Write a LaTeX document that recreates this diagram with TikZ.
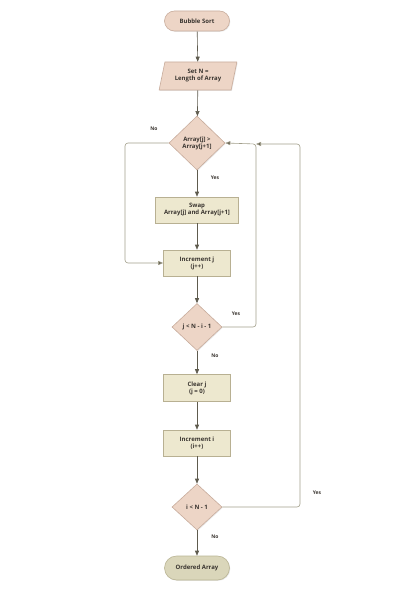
\documentclass[tikz,border=0pt]{standalone}
\usepackage{fontspec}
\setmainfont{Open Sans}
\usetikzlibrary{shapes.geometric,shapes.misc,arrows.meta,shadows}
\definecolor{termfill}{HTML}{EDD5C6}
\definecolor{termline}{HTML}{C8AC9C}
\definecolor{procfill}{HTML}{EDE8CF}
\definecolor{procline}{HTML}{B8B092}
\definecolor{endfill}{HTML}{DAD6BA}
\definecolor{endline}{HTML}{B9B494}
\definecolor{flow}{HTML}{5E5B4E}
\definecolor{loopline}{HTML}{A19E8A}
\definecolor{txt}{HTML}{3A3530}
\tikzset{
  base/.style={font=\fontsize{6}{7}\selectfont\bfseries, text=txt, align=center, inner sep=1pt,
    drop shadow={shadow xshift=0.8pt, shadow yshift=-0.8pt, opacity=0.18}},
  term/.style={base, rounded rectangle, fill=termfill, draw=termline, line width=0.6pt},
  endterm/.style={base, rounded rectangle, fill=endfill, draw=endline, line width=0.6pt},
  io/.style={base, trapezium, trapezium left angle=74, trapezium right angle=106, trapezium stretches=true,
    fill=termfill, draw=termline, line width=0.6pt},
  decision/.style={base, diamond, fill=termfill, draw=termline, line width=0.6pt},
  proc/.style={base, rectangle, fill=procfill, draw=procline, line width=0.6pt},
  flowarrow/.style={draw=flow, line width=0.6pt, -{Triangle[length=5pt,width=4pt]}},
  loop/.style={draw=loopline, line width=0.6pt, rounded corners=3pt, -{Triangle[length=5pt,width=4pt,fill=flow]}},
  lbl/.style={font=\fontsize{5}{6}\selectfont\bfseries, text=txt, inner sep=0pt},
}
\begin{document}
\begin{tikzpicture}[x=1pt,y=-1pt]
\useasboundingbox (0,0) rectangle (420,594);

% main column
\node[term, minimum width=67pt, minimum height=20pt] (start) at (197,21) {Bubble Sort};
\node[io, minimum width=78pt, minimum height=28pt] (setn) at (198,76) {Set N =\\Length of Array};
\node[decision, minimum width=56pt, minimum height=54pt, aspect=1] (cmp) at (197,143) {Array[j] >\\Array[j+1]};
\node[proc, minimum width=83pt, minimum height=26pt] (swap) at (197,210) {Swap\\Array[j] and Array[j+1]};
\node[proc, minimum width=67pt, minimum height=26pt] (incj) at (197,263) {Increment j\\(j++)};
\node[decision, minimum width=50pt, minimum height=47pt] (testj) at (197,327) {j < N - i - 1};
\node[proc, minimum width=67pt, minimum height=27pt] (clrj) at (197,388) {Clear j\\(j = 0)};
\node[proc, minimum width=67pt, minimum height=26pt] (inci) at (197,443) {Increment i\\(i++)};
\node[decision, minimum width=50pt, minimum height=46pt] (testi) at (197,507) {i < N - 1};
\node[endterm, minimum width=67pt, minimum height=24pt] (done) at (197,568) {Ordered Array};

% loop turning points
\coordinate (noL) at (125,143);
\coordinate (noB) at (125,263);
\coordinate (jR) at (256,327);
\coordinate (jT) at (256,144);
\coordinate (iR) at (300,507);
\coordinate (iT) at (300,144);

% straight flow
\draw[flowarrow] (start) -- (setn);
\draw[flowarrow] (setn) -- (cmp);
\draw[flowarrow] (cmp) -- (swap);
\draw[flowarrow] (swap) -- (incj);
\draw[flowarrow] (incj) -- (testj);
\draw[flowarrow] (testj) -- (clrj);
\draw[flowarrow] (clrj) -- (inci);
\draw[flowarrow] (inci) -- (testi);
\draw[flowarrow] (testi) -- (done);

% loops
\draw[loop] (cmp.west) -- (noL) -- (noB) -- (incj.west);
\draw[loop] (testj.east) -- (jR) -- (jT) -- (cmp.east);
\draw[loop] (testi.east) -- (iR) -- (iT) -- (jT);

% branch labels
\node[lbl] (lno1) at (154,129) {No};
\node[lbl] (lyes1) at (215,178) {Yes};
\node[lbl] (lyes2) at (236,314) {Yes};
\node[lbl] (lno2) at (215,356) {No};
\node[lbl] (lyes3) at (317,493) {Yes};
\node[lbl] (lno3) at (215,537) {No};
\end{tikzpicture}
\end{document}
